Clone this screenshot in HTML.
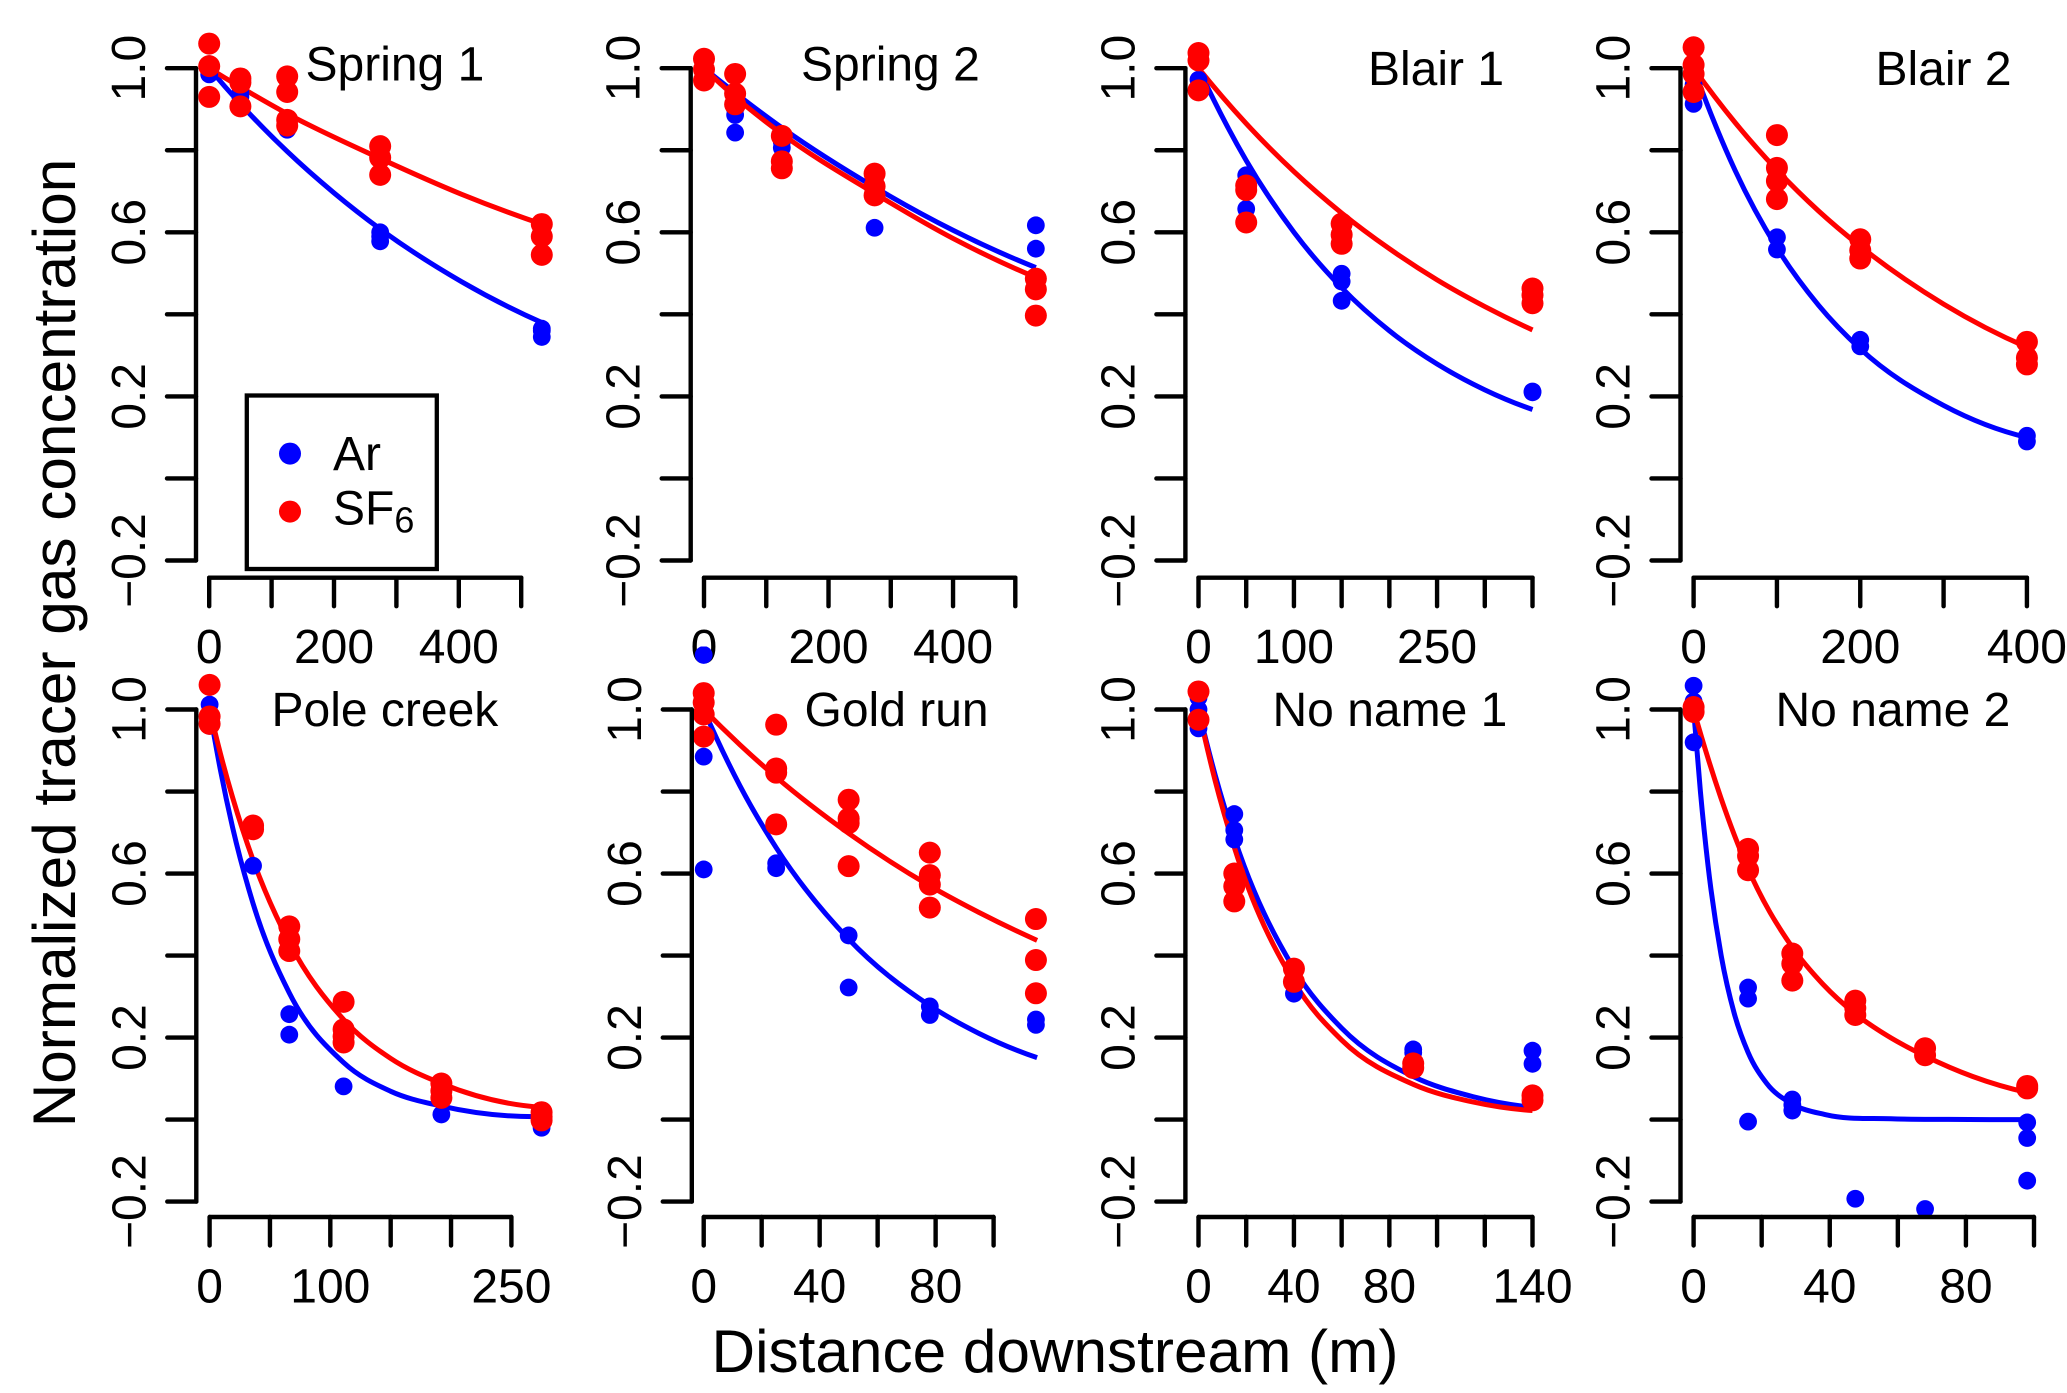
<!DOCTYPE html>
<html lang="en">
<head>
<meta charset="utf-8">
<title>Normalized tracer gas concentration vs distance downstream</title>
<style>
html,body{margin:0;padding:0;background:#fff;}
svg{display:block;}
text{font-family:"Liberation Sans",sans-serif;fill:#000;}
</style>
</head>
<body>
<svg id="chart" xmlns="http://www.w3.org/2000/svg" width="2067" height="1393" viewBox="0 0 2067 1393">
  <rect x="0" y="0" width="2067" height="1393" fill="#fff"/>
  <text transform="translate(75,643) rotate(-90)" text-anchor="middle" font-size="60.3">Normalized tracer gas concentration</text>
  <text x="1055" y="1372" text-anchor="middle" font-size="60.3">Distance downstream (m)</text>
  <g>
    <rect x="246.8" y="395.5" width="190" height="173.5" fill="none" stroke="#000" stroke-width="4.3"/>
    <circle cx="290" cy="453.6" r="11" fill="#0000ff"/>
    <text x="333" y="470" font-size="48">Ar</text>
    <circle cx="290" cy="511.6" r="11" fill="#ff0000"/>
    <text x="333" y="524.5" font-size="48">SF<tspan dy="8" font-size="36">6</tspan></text>
  </g>
</svg>
<script>
// ---- Values ----
const yTickValues = [-0.2, 0, 0.2, 0.4, 0.6, 0.8, 1.0];
const yTickLabels = ['\u22120.2', '', '0.2', '', '0.6', '', '1.0'];

const spring1XTicks = [0, 100, 200, 300, 400, 500];
const spring1XLabels = ['0', '', '200', '', '400', ''];
const spring1ArX = [0, 0, 0, 50, 50, 125, 125, 274, 274, 274, 533, 533, 533];
const spring1ArY = [1.0, 0.985, 1.01, 0.94, 0.93, 0.85, 0.86, 0.6, 0.578, 0.59, 0.365, 0.345, 0.36];
const spring1SfX = [0, 0, 0, 50, 50, 50, 125, 125, 125, 125, 274, 274, 274, 533, 533, 533];
const spring1SfY = [1.06, 1.005, 0.93, 0.975, 0.965, 0.907, 0.98, 0.942, 0.874, 0.86, 0.81, 0.782, 0.74, 0.62, 0.59, 0.545];
const spring1ArFitX = [0, 50, 125, 200, 274, 404, 533];
const spring1ArFitY = [1.0, 0.913, 0.797, 0.696, 0.608, 0.48, 0.38];
const spring1SfFitX = [0, 50, 125, 274, 404, 533];
const spring1SfFitY = [1.0, 0.954, 0.889, 0.78, 0.693, 0.62];

const spring2XTicks = [0, 100, 200, 300, 400, 500];
const spring2XLabels = ['0', '', '200', '', '400', ''];
const spring2ArX = [0, 0, 0, 50, 50, 50, 125, 125, 274, 274, 274, 533, 533];
const spring2ArY = [1.0, 0.99, 0.98, 0.886, 0.843, 0.9, 0.806, 0.82, 0.611, 0.7, 0.72, 0.617, 0.56];
const spring2SfX = [0, 0, 0, 50, 50, 50, 125, 125, 125, 274, 274, 274, 533, 533, 533];
const spring2SfY = [1.023, 0.997, 0.97, 0.986, 0.938, 0.912, 0.835, 0.773, 0.756, 0.743, 0.712, 0.69, 0.487, 0.461, 0.397];
const spring2ArFitX = [0, 50, 125, 274, 400, 533];
const spring2ArFitY = [1.0, 0.94, 0.855, 0.71, 0.605, 0.514];
const spring2SfFitX = [0, 50, 125, 274, 400, 533];
const spring2SfFitY = [1.0, 0.93, 0.84, 0.695, 0.585, 0.49];

const blair1XTicks = [0, 50, 100, 150, 200, 250, 300, 350];
const blair1XLabels = ['0', '', '100', '', '', '250', '', ''];
const blair1ArX = [0, 0, 50, 50, 50, 150, 150, 150, 350, 350];
const blair1ArY = [0.972, 0.95, 0.739, 0.657, 0.708, 0.499, 0.48, 0.433, 0.21, 0.212];
const blair1SfX = [0, 0, 0, 50, 50, 50, 150, 150, 150, 350, 350, 350];
const blair1SfY = [1.037, 1.019, 0.946, 0.714, 0.703, 0.624, 0.621, 0.594, 0.572, 0.463, 0.447, 0.427];
const blair1ArFitX = [0, 50, 100, 150, 200, 250, 300, 350];
const blair1ArFitY = [1.0, 0.775, 0.6, 0.465, 0.36, 0.279, 0.216, 0.168];
const blair1SfFitX = [0, 50, 100, 150, 200, 250, 300, 350];
const blair1SfFitY = [1.0, 0.865, 0.748, 0.647, 0.56, 0.484, 0.419, 0.362];

const blair2XTicks = [0, 100, 200, 300, 400];
const blair2XLabels = ['0', '', '200', '', '400'];
const blair2ArX = [0, 0, 0, 100, 100, 200, 200, 400, 400];
const blair2ArY = [0.913, 0.96, 1.0, 0.588, 0.558, 0.338, 0.322, 0.104, 0.09];
const blair2SfX = [0, 0, 0, 0, 100, 100, 100, 100, 200, 200, 200, 400, 400, 400];
const blair2SfY = [1.051, 1.008, 0.986, 0.942, 0.837, 0.757, 0.725, 0.681, 0.583, 0.556, 0.536, 0.333, 0.294, 0.278];
const blair2ArFitX = [0, 50, 100, 150, 200, 300, 400];
const blair2ArFitY = [1.0, 0.75, 0.562, 0.422, 0.316, 0.178, 0.1];
const blair2SfFitX = [0, 50, 100, 150, 200, 300, 400];
const blair2SfFitY = [1.0, 0.867, 0.752, 0.652, 0.566, 0.425, 0.32];

const poleXTicks = [0, 50, 100, 150, 200, 250];
const poleXLabels = ['0', '', '100', '', '', '250'];
const poleArX = [0, 0, 0, 36, 66, 66, 111, 192, 275, 275];
const poleArY = [1.012, 0.97, 0.96, 0.619, 0.257, 0.207, 0.081, 0.0125, -0.02, 0.0];
const poleSfX = [0, 0, 0, 36, 36, 66, 66, 66, 111, 111, 111, 111, 192, 192, 192, 275, 275, 275];
const poleSfY = [1.06, 0.983, 0.965, 0.717, 0.708, 0.471, 0.44, 0.411, 0.287, 0.22, 0.203, 0.188, 0.088, 0.07, 0.053, 0.018, 0.007, -0.002];
const poleArFitX = [0, 9, 19, 36, 66, 111, 150, 192, 275];
const poleArFitY = [1.0, 0.852, 0.713, 0.527, 0.309, 0.139, 0.069, 0.033, 0.0075];
const poleSfFitX = [0, 9, 19, 36, 66, 111, 150, 192, 275];
const poleSfFitY = [1.0, 0.892, 0.786, 0.633, 0.432, 0.244, 0.149, 0.088, 0.03];

const goldXTicks = [0, 20, 40, 60, 80, 100];
const goldXLabels = ['0', '', '40', '', '80', ''];
const goldArX = [0, 0, 0, 0, 25, 25, 50, 50, 78, 78, 114.6, 114.6];
const goldArY = [1.133, 1.0, 0.885, 0.61, 0.625, 0.613, 0.449, 0.322, 0.276, 0.255, 0.244, 0.231];
const goldSfX = [0, 0, 0, 0, 25, 25, 25, 25, 50, 50, 50, 50, 78, 78, 78, 78, 114.6, 114.6, 114.6];
const goldSfY = [1.04, 1.017, 0.988, 0.934, 0.963, 0.856, 0.846, 0.72, 0.78, 0.734, 0.723, 0.618, 0.651, 0.596, 0.573, 0.517, 0.489, 0.389, 0.308];
const goldArFitX = [0, 12.5, 25, 50, 78, 95, 115];
const goldArFitY = [1.0, 0.814, 0.663, 0.44, 0.278, 0.21, 0.151];
const goldSfFitX = [0, 12.5, 25, 50, 78, 95, 115];
const goldSfFitY = [1.0, 0.914, 0.835, 0.698, 0.57, 0.505, 0.437];

const noName1XTicks = [0, 20, 40, 60, 80, 100, 120, 140];
const noName1XLabels = ['0', '', '40', '', '80', '', '', '140'];
const noName1ArX = [0, 0, 0, 15, 15, 15, 40, 90, 90, 140, 140];
const noName1ArY = [1.029, 1.0, 0.954, 0.745, 0.706, 0.683, 0.307, 0.171, 0.163, 0.168, 0.136];
const noName1SfX = [0, 0, 15, 15, 15, 40, 40, 90, 90, 140, 140];
const noName1SfY = [1.044, 0.975, 0.6, 0.569, 0.532, 0.368, 0.336, 0.137, 0.126, 0.059, 0.047];
const noName1ArFitX = [0, 7, 15, 40, 60, 90, 115, 140];
const noName1ArFitY = [1.0, 0.84, 0.687, 0.368, 0.223, 0.105, 0.056, 0.03];
const noName1SfFitX = [0, 7, 15, 40, 60, 90, 115, 140];
const noName1SfFitY = [1.0, 0.826, 0.664, 0.336, 0.194, 0.086, 0.043, 0.022];

const noName2XTicks = [0, 20, 40, 60, 80, 100];
const noName2XLabels = ['0', '', '40', '', '80', ''];
const noName2ArX = [0, 0, 0, 16, 16, 16, 29, 29, 29, 47.5, 47.5, 68, 98, 98, 98];
const noName2ArY = [1.058, 1.02, 0.92, 0.322, 0.295, -0.005, 0.049, 0.036, 0.022, -0.193, -0.255, -0.218, -0.007, -0.045, -0.149];
const noName2SfX = [0, 0, 16, 16, 16, 29, 29, 29, 47.5, 47.5, 47.5, 68, 68, 98, 98];
const noName2SfY = [1.006, 0.994, 0.66, 0.643, 0.608, 0.405, 0.38, 0.339, 0.29, 0.272, 0.255, 0.174, 0.157, 0.082, 0.076];
const noName2ArFitX = [0, 2, 4.2, 8.1, 11.9, 16, 21.5, 28.8, 38.8, 58, 75, 98];
const noName2ArFitY = [1.0, 0.8, 0.622, 0.4, 0.26, 0.164, 0.088, 0.039, 0.012, 0.002, 0.0005, 0.0];
const noName2SfFitX = [0, 8, 16, 29, 38, 47.5, 57, 68, 82, 98];
const noName2SfFitY = [1.0, 0.785, 0.612, 0.42, 0.33, 0.258, 0.204, 0.155, 0.105, 0.066];

const panels = [
  {id:'spring-1', title:'Spring 1', tx:305.5, ty:80.4, axisX:196, x0:209.2, k:0.624, row:0, xT:spring1XTicks, xL:spring1XLabels, aX:spring1ArX, aY:spring1ArY, sX:spring1SfX, sY:spring1SfY, afX:spring1ArFitX, afY:spring1ArFitY, sfX:spring1SfFitX, sfY:spring1SfFitY},
  {id:'spring-2', title:'Spring 2', tx:801, ty:80.4, axisX:690.7, x0:704, k:0.6226, row:0, xT:spring2XTicks, xL:spring2XLabels, aX:spring2ArX, aY:spring2ArY, sX:spring2SfX, sY:spring2SfY, afX:spring2ArFitX, afY:spring2ArFitY, sfX:spring2SfFitX, sfY:spring2SfFitY},
  {id:'blair-1', title:'Blair 1', tx:1368, ty:85, axisX:1185.4, x0:1198.5, k:0.9543, row:0, xT:blair1XTicks, xL:blair1XLabels, aX:blair1ArX, aY:blair1ArY, sX:blair1SfX, sY:blair1SfY, afX:blair1ArFitX, afY:blair1ArFitY, sfX:blair1SfFitX, sfY:blair1SfFitY},
  {id:'blair-2', title:'Blair 2', tx:1875.5, ty:85, axisX:1680.5, x0:1693.6, k:0.8333, row:0, xT:blair2XTicks, xL:blair2XLabels, aX:blair2ArX, aY:blair2ArY, sX:blair2SfX, sY:blair2SfY, afX:blair2ArFitX, afY:blair2ArFitY, sfX:blair2SfFitX, sfY:blair2SfFitY},
  {id:'pole-creek', title:'Pole creek', tx:271.5, ty:726, axisX:196.3, x0:209.6, k:1.2072, row:1, xT:poleXTicks, xL:poleXLabels, aX:poleArX, aY:poleArY, sX:poleSfX, sY:poleSfY, afX:poleArFitX, afY:poleArFitY, sfX:poleSfFitX, sfY:poleSfFitY},
  {id:'gold-run', title:'Gold run', tx:804.5, ty:726, axisX:691.8, x0:703.7, k:2.899, row:1, xT:goldXTicks, xL:goldXLabels, aX:goldArX, aY:goldArY, sX:goldSfX, sY:goldSfY, afX:goldArFitX, afY:goldArFitY, sfX:goldSfFitX, sfY:goldSfFitY},
  {id:'no-name-1', title:'No name 1', tx:1272.5, ty:726, axisX:1185.4, x0:1198.5, k:2.3857, row:1, xT:noName1XTicks, xL:noName1XLabels, aX:noName1ArX, aY:noName1ArY, sX:noName1SfX, sY:noName1SfY, afX:noName1ArFitX, afY:noName1ArFitY, sfX:noName1SfFitX, sfY:noName1SfFitY},
  {id:'no-name-2', title:'No name 2', tx:1775.5, ty:726, axisX:1680.5, x0:1693.6, k:3.404, row:1, xT:noName2XTicks, xL:noName2XLabels, aX:noName2ArX, aY:noName2ArY, sX:noName2SfX, sY:noName2SfY, afX:noName2ArFitX, afY:noName2ArFitY, sfX:noName2SfFitX, sfY:noName2SfFitY}
];

// ---- Rows: vertical scale anchors ----
const rowTop = [68.2, 709.5];
const rowBottom = [560.5, 1201.6];
const rowAxisY = [577.7, 1217];
const NS = 'http://www.w3.org/2000/svg';
const svg = document.getElementById('chart');

function mk(tag, attrs, parent) {
  const el = document.createElementNS(NS, tag);
  for (const key in attrs) el.setAttribute(key, attrs[key]);
  parent.appendChild(el);
  return el;
}

// Smooth cubic path through the fitted-curve readings
function fitPath(xs, ys) {
  const n = xs.length, d = [], h = [], m = [];
  for (let i = 0; i < n - 1; i++) {
    h.push(xs[i + 1] - xs[i]);
    d.push((ys[i + 1] - ys[i]) / h[i]);
  }
  for (let i = 1; i < n - 1; i++) {
    m[i] = (h[i] * d[i - 1] + h[i - 1] * d[i]) / (h[i - 1] + h[i]);
  }
  m[0] = n > 2 ? ((2 * h[0] + h[1]) * d[0] - h[0] * d[1]) / (h[0] + h[1]) : d[0];
  const e = n - 2;
  m[n - 1] = n > 2 ? ((2 * h[e] + h[e - 1]) * d[e] - h[e] * d[e - 1]) / (h[e] + h[e - 1]) : d[0];
  let p = 'M' + xs[0].toFixed(2) + ' ' + ys[0].toFixed(2);
  for (let i = 0; i < n - 1; i++) {
    const t = h[i] / 3;
    p += 'C' + (xs[i] + t).toFixed(2) + ' ' + (ys[i] + m[i] * t).toFixed(2) + ' ' +
         (xs[i + 1] - t).toFixed(2) + ' ' + (ys[i + 1] - m[i + 1] * t).toFixed(2) + ' ' +
         xs[i + 1].toFixed(2) + ' ' + ys[i + 1].toFixed(2);
  }
  return p;
}

panels.forEach(function (pn) {
  const sx = function (d) { return pn.x0 + d * pn.k; };
  const sy = function (v) {
    return rowBottom[pn.row] + (v + 0.2) * (rowTop[pn.row] - rowBottom[pn.row]) / 1.2;
  };
  const axisY = rowAxisY[pn.row];

  const g = mk('g', {}, svg);
  
  

  const clipId = 'clip-' + pn.id;
  const clip = mk('clipPath', {id: clipId}, g);
  mk('rect', {x: pn.axisX - 1, y: rowTop[pn.row] - 63, width: sx(pn.xT[pn.xT.length - 1]) - pn.axisX + 60, height: axisY - rowTop[pn.row] + 63}, clip);

  const plot = mk('g', {'clip-path': 'url(#' + clipId + ')'}, g);
  
  

  const arLine = mk('path', {d: fitPath(pn.afX.map(sx), pn.afY.map(sy)), fill: 'none', stroke: '#0000ff', 'stroke-width': 5}, plot);
  
  

  const sfLine = mk('path', {d: fitPath(pn.sfX.map(sx), pn.sfY.map(sy)), fill: 'none', stroke: '#ff0000', 'stroke-width': 5}, plot);
  
  

  pn.aX.forEach(function (d, i) {
    const dot = mk('circle', {cx: sx(d), cy: sy(pn.aY[i]), r: 8.9, fill: '#0000ff'}, plot);
    
    
  });
  pn.sX.forEach(function (d, i) {
    const dot = mk('circle', {cx: sx(d), cy: sy(pn.sY[i]), r: 11, fill: '#ff0000'}, plot);
    
    
  });

  // y axis
  const yAxis = mk('g', {stroke: '#000', 'stroke-width': 4.4, 'stroke-linecap': 'round'}, g);
  
  
  mk('line', {x1: pn.axisX, x2: pn.axisX, y1: sy(yTickValues[0]), y2: sy(yTickValues[yTickValues.length - 1])}, yAxis);
  yTickValues.forEach(function (v, i) {
    const tick = mk('line', {x1: pn.axisX - 29, x2: pn.axisX, y1: sy(v), y2: sy(v)}, yAxis);
    
    
    if (yTickLabels[i]) {
      const lx = pn.axisX - 51;
      const lab = mk('text', {transform: 'translate(' + lx + ',' + sy(v) + ') rotate(-90)', 'text-anchor': 'middle', 'font-size': 48, stroke: 'none'}, yAxis);
      lab.textContent = yTickLabels[i];
      
      
    }
  });

  // x axis
  const xAxis = mk('g', {stroke: '#000', 'stroke-width': 4.4, 'stroke-linecap': 'round'}, g);
  
  
  mk('line', {x1: sx(pn.xT[0]), x2: sx(pn.xT[pn.xT.length - 1]), y1: axisY, y2: axisY}, xAxis);
  pn.xT.forEach(function (d, i) {
    const tick = mk('line', {x1: sx(d), x2: sx(d), y1: axisY, y2: axisY + 28.5}, xAxis);
    
    
    if (pn.xL[i]) {
      const lab = mk('text', {x: sx(d), y: axisY + 85.5, 'text-anchor': 'middle', 'font-size': 48, stroke: 'none'}, xAxis);
      lab.textContent = pn.xL[i];
      
      
    }
  });

  const title = mk('text', {x: pn.tx, y: pn.ty, 'font-size': 48}, g);
  title.textContent = pn.title;
  
  
});
</script>
</body>
</html>
